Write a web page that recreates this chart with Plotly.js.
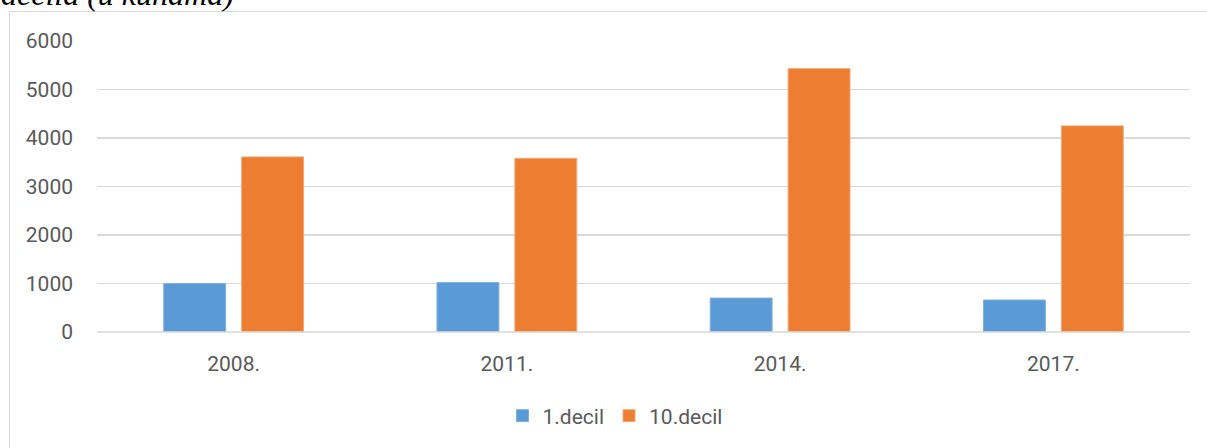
<!DOCTYPE html>
<html>
<head>
<meta charset="utf-8">
<script src="https://cdn.plot.ly/plotly-3.0.1.min.js"></script>
<style>
html,body{margin:0;padding:0;background:#fff;}
#chart{width:1207px;height:448px;}
</style>
</head>
<body>
<div id="chart"></div>
<script>
const categories = ["2008.", "2011.", "2014.", "2017."];
const seriesNames = ["1.decil", "10.decil"];
const decil1 = [1000, 1020, 700, 660];
const decil10 = [3610, 3580, 5430, 4250];
const yTicks = [0, 1000, 2000, 3000, 4000, 5000, 6000];
const titleText = "decila (u kunama)";

const W = 1207, H = 448;
const L = 97, R = 17, T = 41, B = 116;
const pw = W - L - R, ph = H - T - B;
const px = x => (x - L) / pw;
const py = y => (H - B - y) / ph;

const tickFont = {family: "Roboto, 'Open Sans', sans-serif", size: 21, color: "#595959"};

const traces = [
  {type: "bar", name: seriesNames[0], x: categories, y: decil1,
   marker: {color: "#5b9bd5", line: {color: "#7fb1e0", width: 1}}},
  {type: "bar", name: seriesNames[1], x: categories, y: decil10,
   marker: {color: "#ed7d31", line: {color: "#f4a878", width: 1}}}
];

const layout = {
  width: W, height: H,
  margin: {l: L, r: R, t: T, b: B, pad: 0},
  paper_bgcolor: "#fff", plot_bgcolor: "#fff",
  barmode: "group", bargap: 0.43, bargroupgap: 0.205,
  showlegend: true,
  legend: {orientation: "h", x: px(615), xanchor: "center", y: py(416), yanchor: "middle",
           font: tickFont, itemwidth: 30, traceorder: "normal"},
  xaxis: {type: "category", showgrid: false, zeroline: false, showline: false,
          ticks: "", tickfont: tickFont, ticklabelstandoff: 17},
  yaxis: {range: [0, 6000], tickvals: yTicks, ticktext: yTicks.map(String),
          showgrid: true, gridcolor: "#d9d9d9", gridwidth: 1.5, zeroline: false,
          showline: false, ticks: "", tickfont: tickFont, ticklabelstandoff: 23},
  shapes: [
    {type: "rect", xref: "paper", yref: "paper", layer: "below",
     x0: px(9.5), x1: px(1230), y0: py(470), y1: py(11.5),
     line: {color: "#d9d9d9", width: 1}, fillcolor: "rgba(0,0,0,0)"},
    {type: "line", xref: "paper", yref: "paper", layer: "above",
     x0: 0, x1: 1, y0: 0, y1: 0, line: {color: "#d9d9d9", width: 1.5}}
  ],
  annotations: [
    {text: titleText, xref: "paper", yref: "paper", x: px(-1), xanchor: "left",
     y: py(14), yanchor: "bottom", showarrow: false,
     font: {family: "'Liberation Serif', 'DejaVu Serif', serif", size: 32, color: "#000", style: "italic"}}
  ]
};

Plotly.newPlot("chart", traces, layout, {displayModeBar: false, staticPlot: true});
</script>
</body>
</html>
